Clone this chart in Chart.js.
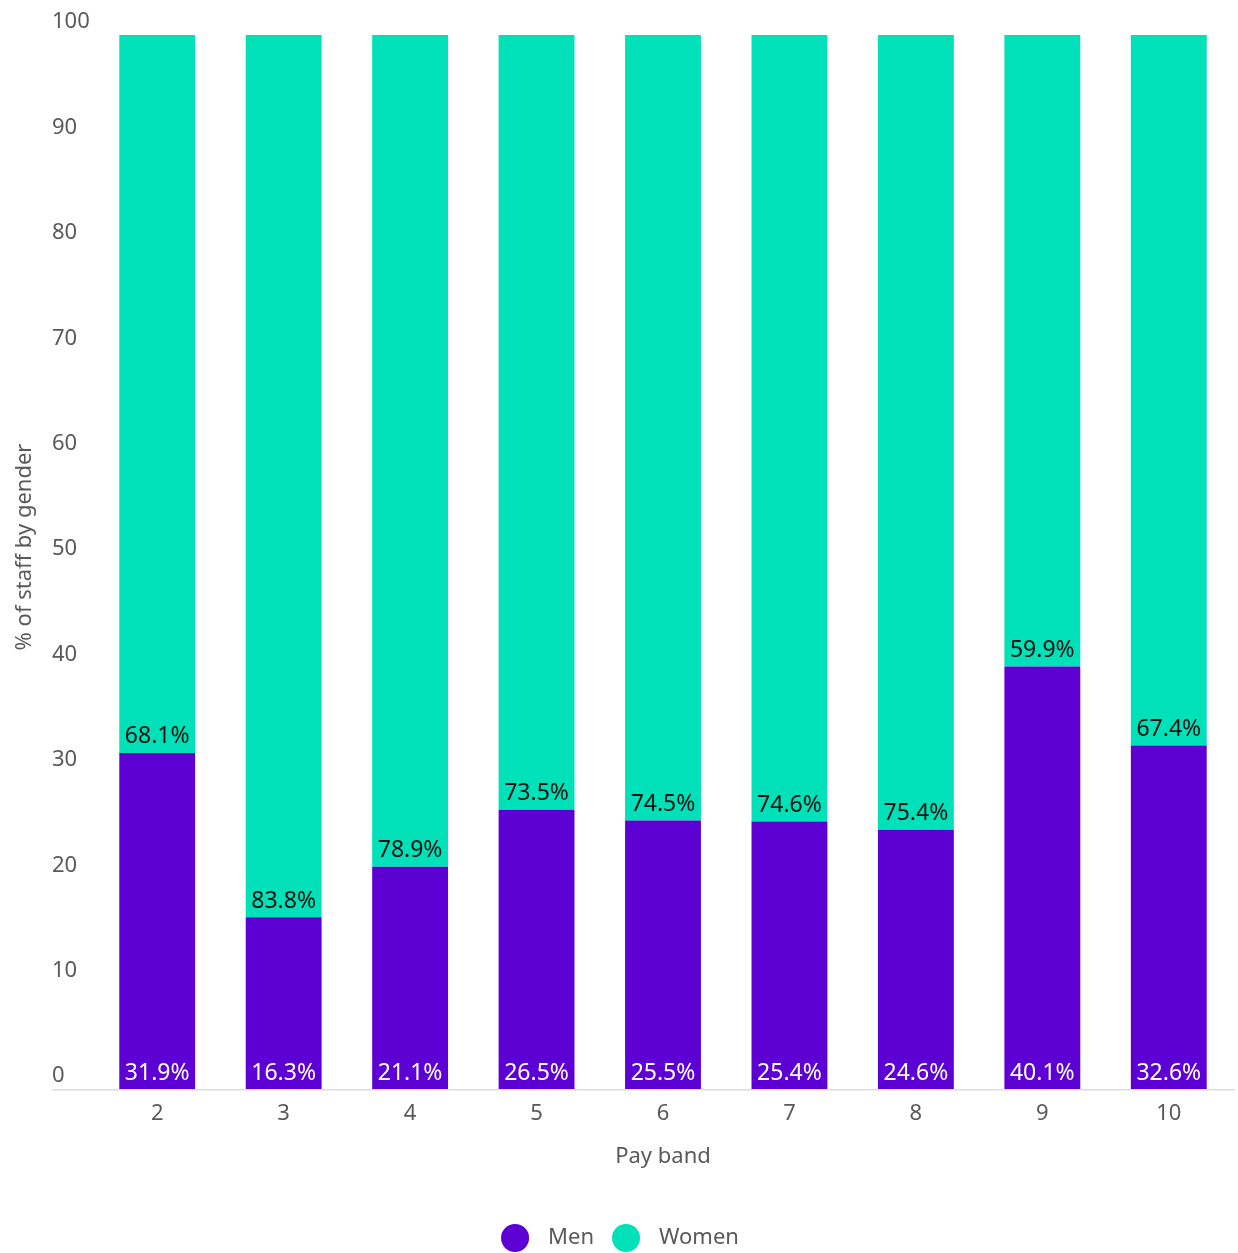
<!DOCTYPE html>
<html>
<head>
<meta charset="utf-8">
<script src="https://cdn.jsdelivr.net/npm/chart.js@4"></script>
<style>
    html, body { margin: 0; padding: 0; background: #fff; }
    #wrap { width: 1238px; height: 1253px; position: relative; }
</style>
</head>
<body>
<div id="wrap"><canvas id="payChart"></canvas></div>
<script>
// values
const payBands = ['2', '3', '4', '5', '6', '7', '8', '9', '10'];
const menPct = [31.9, 16.3, 21.1, 26.5, 25.5, 25.4, 24.6, 40.1, 32.6];
const womenPct = [68.1, 83.8, 78.9, 73.5, 74.5, 74.6, 75.4, 59.9, 67.4];
const yTicks = [0, 10, 20, 30, 40, 50, 60, 70, 80, 90, 100];
const yTitle = '% of staff by gender';

const MEN_COLOUR = '#5c00d4';
const WOMEN_COLOUR = '#00e1b9';
const GREY = '#595959';
const FONT = '"Noto Sans", "Open Sans", sans-serif';

// percent labels at the base of each segment, the long baseline, y title and legend
const barLabels = {
    id: 'barLabels',
    afterDatasetsDraw(chart) {
        const ctx = chart.ctx;
        ctx.save();
        ctx.font = '23px ' + FONT;
        ctx.textAlign = 'center';
        ctx.textBaseline = 'middle';
        chart.data.datasets.forEach((ds, i) => {
            const meta = chart.getDatasetMeta(i);
            meta.data.forEach((bar, j) => {
                ctx.fillStyle = i === 0 ? '#ffffff' : '#111111';
                ctx.fillText(ds.data[j].toFixed(1) + '%', bar.x, bar.base - 16);
            });
        });
        // axis line runs under the y labels too
        const y = chart.scales.y.getPixelForValue(0);
        ctx.strokeStyle = '#dcdcdc';
        ctx.lineWidth = 1.5;
        ctx.beginPath();
        ctx.moveTo(52, y + 0.5);
        ctx.lineTo(chart.width - 3, y + 0.5);
        ctx.stroke();

        // legend, centred on the whole canvas
        ctx.font = '22px ' + FONT;
        ctx.textAlign = 'left';
        const items = chart.data.datasets.map(ds => ({ text: ds.label, colour: ds.backgroundColor }));
        const gapDot = 19, gapItem = 18, r = 14;
        let total = 0;
        items.forEach((it, k) => {
            it.w = ctx.measureText(it.text).width;
            total += 2 * r + gapDot + it.w + (k ? gapItem : 0);
        });
        let lx = chart.width / 2 - total / 2 + 1;
        const ly = 1238;
        items.forEach(it => {
            ctx.fillStyle = it.colour;
            ctx.beginPath();
            ctx.arc(lx + r, ly, r, 0, Math.PI * 2);
            ctx.fill();
            ctx.fillStyle = GREY;
            ctx.fillText(it.text, lx + 2 * r + gapDot, ly);
            lx += 2 * r + gapDot + it.w + gapItem;
        });

        // rotated y title, kept clear of the tick labels
        ctx.textAlign = 'center';
        ctx.translate(25, 547);
        ctx.rotate(-Math.PI / 2);
        ctx.fillStyle = GREY;
        ctx.fillText(yTitle, 0, 0);
        ctx.restore();
    }
};

const ctx = document.getElementById('payChart');
new Chart(ctx, {
    type: 'bar',
    data: {
        labels: payBands,
        datasets: [
            {
                label: 'Men',
                data: menPct,
                backgroundColor: MEN_COLOUR,
                barPercentage: 0.6,
                categoryPercentage: 1.0
            },
            {
                label: 'Women',
                data: womenPct,
                backgroundColor: WOMEN_COLOUR,
                barPercentage: 0.6,
                categoryPercentage: 1.0
            }
        ]
    },
    options: {
        responsive: true,
        maintainAspectRatio: false,
        animation: false,
        layout: { padding: { top: 35, right: 6, bottom: 83, left: 52 } },
        scales: {
            x: {
                stacked: true,
                grid: { display: false },
                border: { display: false },
                ticks: { color: GREY, font: { family: FONT, size: 22 }, padding: 3 },
                title: {
                    display: true,
                    text: 'Pay band',
                    color: GREY,
                    font: { family: FONT, size: 22 },
                    padding: { top: 14, bottom: 0 }
                }
            },
            y: {
                stacked: true,
                min: 0,
                max: 100,
                grid: { display: false },
                border: { display: false },
                afterBuildTicks(axis) {
                    axis.ticks = yTicks.map(v => ({ value: v }));
                },
                afterFit(axis) {
                    axis.width = 42;
                },
                ticks: {
                    color: GREY,
                    font: { family: FONT, size: 22 },
                    crossAlign: 'far',
                    labelOffset: -13,
                    padding: 0
                }
            }
        },
        plugins: {
            legend: { display: false },
            tooltip: { enabled: false }
        }
    },
    plugins: [barLabels]
});
</script>
</body>
</html>
